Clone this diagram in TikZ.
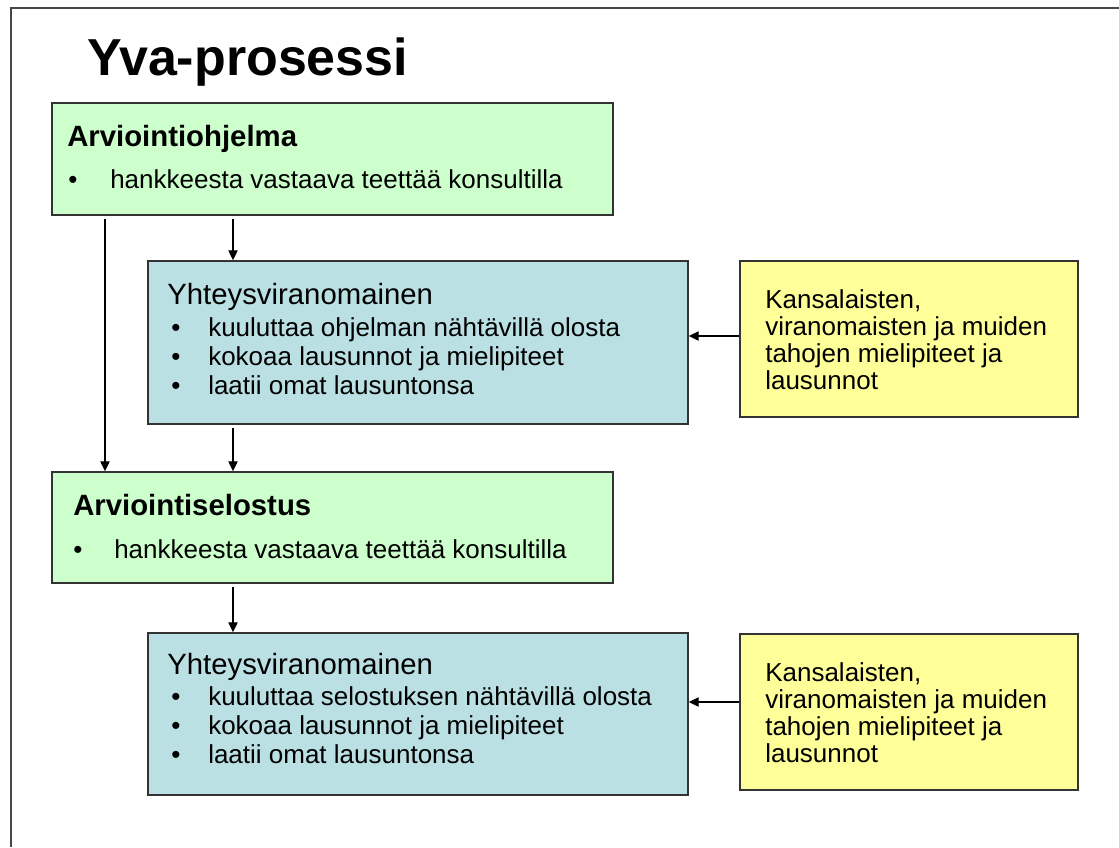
\documentclass[tikz,border=0pt]{standalone}
\usepackage{fontspec}
\setmainfont{Liberation Sans}
\usetikzlibrary{arrows.meta,fit}
\definecolor{boxgreen}{HTML}{CCFFCC}
\definecolor{boxblue}{HTML}{BBE0E3}
\definecolor{boxyellow}{HTML}{FFFF99}
\definecolor{edgegray}{HTML}{333333}
\begin{document}
\begin{tikzpicture}[x=0.75pt,y=-0.75pt,
  panel/.style={fit={#1}, inner sep=0pt, draw=edgegray, line width=1.1pt},
  greenbox/.style={panel={#1}, fill=boxgreen},
  bluebox/.style={panel={#1}, fill=boxblue},
  notebox/.style={panel={#1}, fill=boxyellow},
  line/.style={anchor=base west, inner sep=0pt, font=\fontsize{19.5}{23}\selectfont},
  head/.style={line, font=\fontsize{22}{26}\bfseries},
  subhead/.style={line, font=\fontsize{22}{26}\selectfont},
  dot/.style={line, font=\fontsize{19.5}{23}\selectfont},
  arr/.style={line width=0.9pt, -{Triangle[length=7.5pt,width=7pt]}},
  gap/.style={shorten <=2.5pt}]
\useasboundingbox (0,0) rectangle (1119,847);

% slide frame
\draw[edgegray!90, line width=1.6pt] (11,847) -- (11,8) -- (1119,8);

% title
\node[anchor=base west, inner sep=0pt, font=\fontsize{39}{44}\bfseries] (title) at (87,75) {Yva-prosessi};

% boxes
\node[greenbox={(52,103) (613,215)}] (prog) {};
\node[bluebox={(148,261) (688,424)}] (auth1) {};
\node[notebox={(740,261) (1078,417)}] (op1) {};
\node[greenbox={(52,472) (613,583)}] (rep) {};
\node[bluebox={(148,633) (688,795)}] (auth2) {};
\node[notebox={(740,634) (1078,790)}] (op2) {};

% Arviointiohjelma
\node[head] (progH) at (67,146) {Arviointiohjelma};
\node[dot] (progB) at (68,188) {\textbullet};
\node[line] (progT) at (110,188) {hankkeesta vastaava teettää konsultilla};

% Yhteysviranomainen (ohjelma)
\node[subhead] (a1H) at (167,304) {Yhteysviranomainen};
\node[dot] (a1B1) at (171,336) {\textbullet};
\node[line] (a1T1) at (208,336) {kuuluttaa ohjelman nähtävillä olosta};
\node[dot] (a1B2) at (171,365) {\textbullet};
\node[line] (a1T2) at (208,365) {kokoaa lausunnot ja mielipiteet};
\node[dot] (a1B3) at (171,394) {\textbullet};
\node[line] (a1T3) at (208,394) {laatii omat lausuntonsa};

% opinions 1
\node[line] (o1L1) at (765,308) {Kansalaisten,};
\node[line] (o1L2) at (765,335) {viranomaisten ja muiden};
\node[line] (o1L3) at (765,362) {tahojen mielipiteet ja};
\node[line] (o1L4) at (765,389) {lausunnot};

% Arviointiselostus
\node[head] (repH) at (73,515) {Arviointiselostus};
\node[dot] (repB) at (73,558) {\textbullet};
\node[line] (repT) at (114,558) {hankkeesta vastaava teettää konsultilla};

% Yhteysviranomainen (selostus)
\node[subhead] (a2H) at (167,674) {Yhteysviranomainen};
\node[dot] (a2B1) at (171,705) {\textbullet};
\node[line] (a2T1) at (208,705) {kuuluttaa selostuksen nähtävillä olosta};
\node[dot] (a2B2) at (171,734) {\textbullet};
\node[line] (a2T2) at (208,734) {kokoaa lausunnot ja mielipiteet};
\node[dot] (a2B3) at (171,763) {\textbullet};
\node[line] (a2T3) at (208,763) {laatii omat lausuntonsa};

% opinions 2
\node[line] (o2L1) at (765,681) {Kansalaisten,};
\node[line] (o2L2) at (765,708) {viranomaisten ja muiden};
\node[line] (o2L3) at (765,735) {tahojen mielipiteet ja};
\node[line] (o2L4) at (765,762) {lausunnot};

% connector lanes
\coordinate (laneL) at (105,0);
\coordinate (laneM) at (233,0);
\coordinate (row1) at (0,336);
\coordinate (row2) at (0,702);

\draw[arr,gap] (prog.south -| laneL) -- (rep.north -| laneL);
\draw[arr,gap] (prog.south -| laneM) -- (auth1.north -| laneM);
\draw[arr,gap] (auth1.south -| laneM) -- (rep.north -| laneM);
\draw[arr,gap] (rep.south -| laneM) -- (auth2.north -| laneM);
\draw[arr] (op1.west |- row1) -- (auth1.east |- row1);
\draw[arr] (op2.west |- row2) -- (auth2.east |- row2);
\end{tikzpicture}
\end{document}
